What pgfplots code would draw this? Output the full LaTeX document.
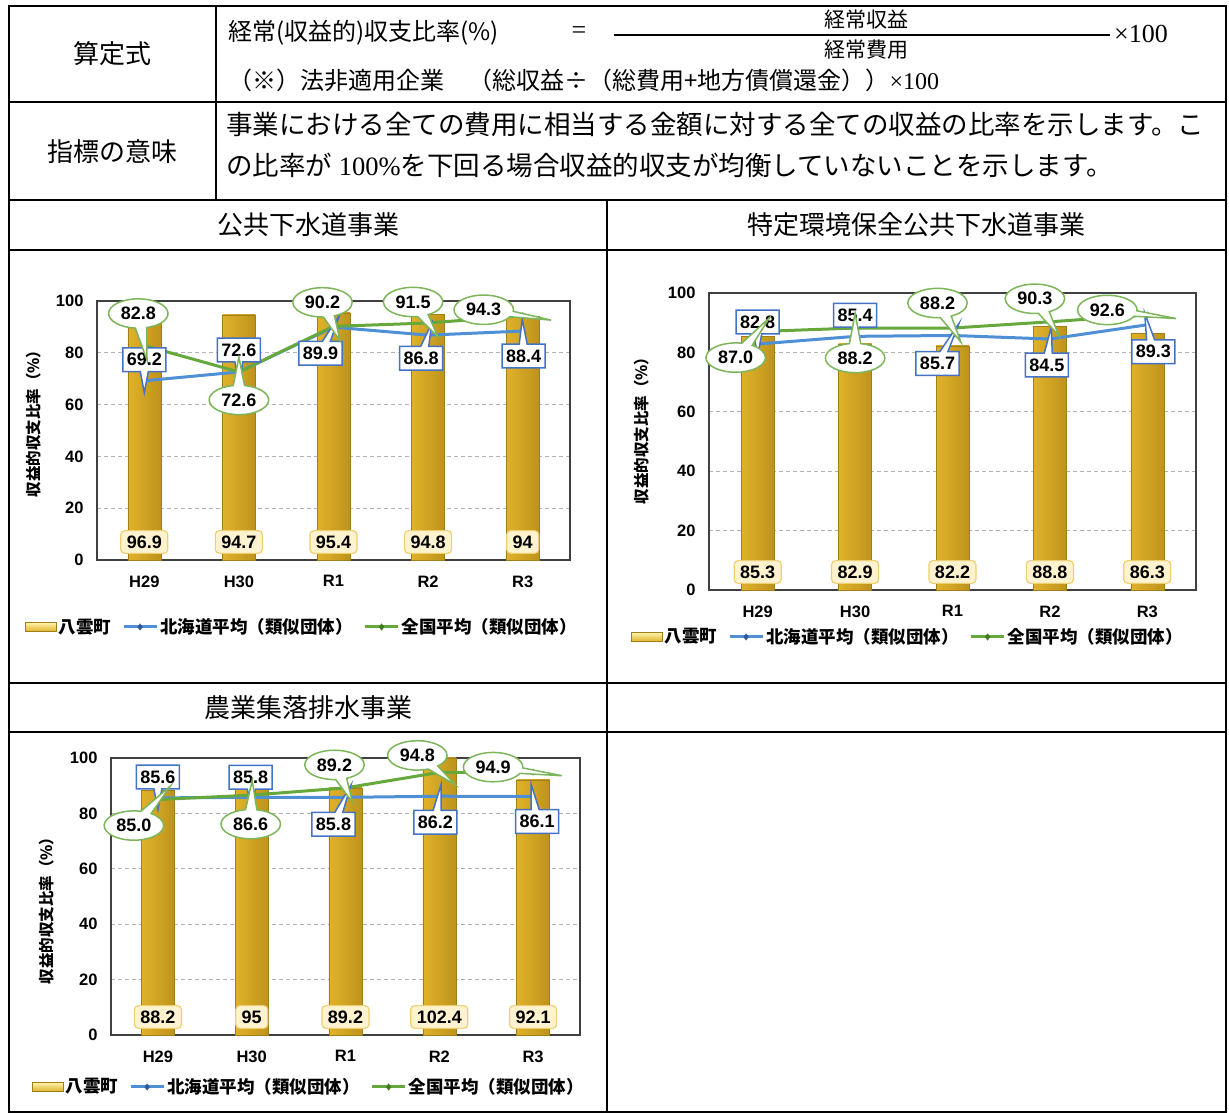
\documentclass[border=0pt]{standalone}
\usepackage{pgfplots}
\pgfplotsset{compat=1.18}
\usepackage{pgfplotstable}
\usepackage{fontspec}
\usetikzlibrary{shapes.callouts}
\setmainfont{Liberation Serif}
\newfontfamily\jp{Noto Sans CJK JP}
\newfontfamily\ars{Liberation Sans}

\definecolor{gridgray}{HTML}{B4B4B4}
\definecolor{framegray}{HTML}{404040}
\definecolor{hkblue}{HTML}{4F8FD6}
\definecolor{hkbluedark}{HTML}{2E5C9A}
\definecolor{zkgreen}{HTML}{66A83C}
\definecolor{zkgreendark}{HTML}{3F7A22}
\definecolor{callgreen}{HTML}{7DB55A}
\definecolor{callblue}{HTML}{4472C4}
\definecolor{barL}{HTML}{E0B22A}
\definecolor{barM}{HTML}{FFF3A8}
\definecolor{barR}{HTML}{BE931C}
\definecolor{barEdge}{HTML}{A07E18}
\definecolor{labFill}{HTML}{FFF3CF}
\definecolor{labDraw}{HTML}{EFCF72}

% x = year index, bar = 八雲町, hk = 北海道平均, zk = 全国平均
% ?dx/?dy: callout offset from its point (pt), ?px/?py: pointer back to the point
\pgfplotstableread{
x bar  hk   zk   hdx hdy hpx hpy zdx zdy zpx zpy
0 96.9 69.2 82.8   0  21   0 -21  -6  32   6 -32
1 94.7 72.6 72.6   0  22   0 -22   0 -28   0  28
2 95.4 89.9 90.2 -13 -26  13  26 -11  24  11 -24
3 94.8 86.8 91.5  -7 -23   7  23 -15  21  15 -21
4 94.0 88.4 94.3   1 -25  -1  25 -39   6  39  -6
}\tabKokyo

\pgfplotstableread{
x bar  hk   zk   hdx hdy hpx hpy zdx zdy zpx zpy
0 85.3 82.8 87.0   0  22   0 -22 -22 -26  22  26
1 82.9 85.4 88.2   0  21   0 -21   0 -30   0  30
2 82.2 85.7 88.2 -15 -28  15  28 -15  25  15 -25
3 88.8 84.5 90.3  -3 -26   3  26 -15  23  15 -23
4 86.3 89.3 92.6   6 -27  -6  27 -40   5  40  -5
}\tabTokkan

\pgfplotstableread{
x bar   hk   zk   hdx hdy hpx hpy zdx zdy zpx zpy
0 88.2  85.6 85.0   0  21   0 -21 -24 -26  24  26
1 95.0  85.8 86.6  -1  20   1 -20  -1 -29   1  29
2 89.2  85.8 89.2 -12 -27  12  27 -11  23  11 -23
3 102.4 86.2 94.8  -4 -26   4  26 -22  17  22 -17
4 92.1  86.1 94.9   4 -25  -4  25 -40   5  40  -5
}\tabNoshu

\pgfplotsset{
  ratiochart/.style={
    scale only axis, anchor=south west, clip=false,
    xmin=-0.5, xmax=4.5, ymin=0, ymax=100,
    xtick={0,1,2,3,4}, xticklabels={H29,H30,R1,R2,R3},
    ytick={0,20,40,60,80,100},
    ymajorgrids,
    grid style={gridgray, dash pattern=on 4pt off 3pt, line width=0.9pt},
    axis line style={framegray, line width=1.6pt},
    major tick length=0pt,
    tick label style={font=\ars\bfseries\fontsize{16.5}{18}\selectfont, text=black},
    /pgf/number format/assume math mode=true,
    yticklabel style={xshift=-10pt},
    xticklabel style={yshift=-12pt},
    legend columns=3,
    legend style={draw=none, fill=none, anchor=west, inner sep=0pt,
      font=\jp\bfseries\fontsize{17.5}{17.5}\selectfont,
      /tikz/every even column/.append style={column sep=9pt}},
  },
  barplot/.style={ybar, bar width=33pt, draw=barEdge, line width=0.4pt,
    left color=barL, middle color=barM, right color=barR},
  barlegend/.style={legend image code/.code={%
      \shade[top color=barM, bottom color=barL, draw=barEdge]
        (0pt,-4.5pt) rectangle (31pt,4.5pt);}},
  lineplot/.style={line width=3pt, mark=diamond*, mark size=3.2pt,
    legend image code/.code={%
      \draw[##1] (0pt,0pt) -- (33pt,0pt);
      \draw[##1] plot coordinates {(16.5pt,0pt)};}},
  barlabels/.style={forget plot, draw=none,
    nodes near coords, point meta=explicit,
    nodes near coords style={anchor=center, yshift=18pt, rounded corners=4pt,
      fill=labFill, draw=labDraw, line width=1.2pt, inner xsep=6pt, inner ysep=5pt,
      text=black, font=\ars\bfseries\fontsize{18}{18}\selectfont}},
  bluelabels/.style={forget plot, draw=none,
    nodes near coords, point meta=y,
    nodes near coords={\pgfmathprintnumber[fixed,fixed zerofill,precision=1]{\pgfplotspointmeta}},
    visualization depends on={\thisrow{hdx}\as\ldx},
    visualization depends on={\thisrow{hdy}\as\ldy},
    visualization depends on={\thisrow{hpx}\as\lpx},
    visualization depends on={\thisrow{hpy}\as\lpy},
    nodes near coords style={anchor=center, xshift=\ldx pt, yshift=\ldy pt,
      rectangle callout, callout relative pointer={(\lpx pt,\lpy pt)},
      callout pointer width=8pt,
      draw=callblue, fill=white, line width=1.5pt, inner xsep=4pt, inner ysep=5.5pt,
      text=black, font=\ars\bfseries\fontsize{18}{18}\selectfont}},
  greenlabels/.style={forget plot, draw=none,
    nodes near coords, point meta=y,
    nodes near coords={\pgfmathprintnumber[fixed,fixed zerofill,precision=1]{\pgfplotspointmeta}},
    visualization depends on={\thisrow{zdx}\as\ldx},
    visualization depends on={\thisrow{zdy}\as\ldy},
    visualization depends on={\thisrow{zpx}\as\lpx},
    visualization depends on={\thisrow{zpy}\as\lpy},
    nodes near coords style={anchor=center, xshift=\ldx pt, yshift=\ldy pt,
      ellipse callout, callout relative pointer={(\lpx pt,\lpy pt)},
      callout pointer arc=22,
      draw=callgreen, fill=white, line width=1.5pt, inner xsep=3.5pt, inner ysep=4pt,
      text=black, font=\ars\bfseries\fontsize{18}{18}\selectfont}},
}

% #1 = table, #2 = extra options for the bars
\newcommand{\ratioplots}[2]{%
  \addlegendimage{barlegend}
  \addlegendentry{八雲町}
  % one plot per year, so that every bar gets its own cylinder shading
  \pgfplotsinvokeforeach{0,...,4}{%
    \addplot[barplot, forget plot, x filter/.expression={abs(x-##1)<0.1 ? x : nan}, #2]
      table[x=x, y=bar]{#1};}
  \addplot[lineplot, hkblue, mark options={fill=hkbluedark, draw=hkbluedark, line width=0.4pt}]
    table[x=x, y=hk]{#1};
  \addlegendentry{北海道平均（類似団体）}
  \addplot[lineplot, zkgreen, mark options={fill=zkgreendark, draw=zkgreendark, line width=0.4pt}]
    table[x=x, y=zk]{#1};
  \addlegendentry{全国平均（類似団体）}
  \addplot[barlabels] table[x=x, y expr=0, meta=bar]{#1};
  \addplot[bluelabels] table[x=x, y=hk]{#1};
  \addplot[greenlabels] table[x=x, y=zk]{#1};
}

\begin{document}
\begin{tikzpicture}
\useasboundingbox (0pt,0pt) rectangle (1229pt,1113pt);

% ---- table frame and texts (coordinates measured from the top left) ----
\begin{scope}[x=1pt, y=-1pt, shift={(0pt,1113pt)}]
  \draw[line width=2.6pt] (9,6) rectangle (1226,1112);
  \draw[line width=2.6pt] (9,102) -- (1226,102);
  \draw[line width=2.6pt] (9,200) -- (1226,200);
  \draw[line width=2.6pt] (9,250) -- (1226,250);
  \draw[line width=2.6pt] (9,683) -- (1226,683);
  \draw[line width=2.6pt] (9,732) -- (1226,732);
  \draw[line width=2.6pt] (216,6) -- (216,200);
  \draw[line width=2.6pt] (607,200) -- (607,1112);

  \node[font=\jp\fontsize{26}{26}\selectfont] at (112,54) {算定式};
  \node[font=\jp\fontsize{26}{26}\selectfont] at (112,152) {指標の意味};

  \node[anchor=west, font=\jp\fontsize{24}{24}\selectfont, inner sep=0pt] at (228,33)
    {経常(収益的)収支比率(\%)};
  \node[font=\fontsize{26}{26}\selectfont] at (579,33) {=};
  \draw[line width=2.2pt] (614,35) -- (1110,35);
  \node[font=\jp\fontsize{21}{21}\selectfont] at (866,20) {経常収益};
  \node[font=\jp\fontsize{21}{21}\selectfont] at (866,50) {経常費用};
  \node[anchor=west, font=\fontsize{26}{26}\selectfont, inner sep=0pt] at (1114,34) {×100};
  \node[anchor=west, font=\jp\fontsize{24}{24}\selectfont, inner sep=0pt] at (228,80)
    {（※）法非適用企業　（総収益÷（総費用+地方債償還金））{\rmfamily ×100}};

  \node[anchor=west, font=\jp\fontsize{26.5}{26.5}\selectfont, inner sep=0pt] at (226,124)
    {事業における全ての費用に相当する金額に対する全ての収益の比率を示します。こ};
  \node[anchor=west, font=\jp\fontsize{26.5}{26.5}\selectfont, inner sep=0pt] at (226,165)
    {の比率が{\rmfamily\ 100\%}を下回る場合収益的収支が均衡していないことを示します。};

  \node[font=\jp\fontsize{26}{26}\selectfont] at (308,225) {公共下水道事業};
  \node[font=\jp\fontsize{26}{26}\selectfont] at (916,225) {特定環境保全公共下水道事業};
  \node[font=\jp\fontsize{26}{26}\selectfont] at (308,708) {農業集落排水事業};

  % axis titles
  \node[rotate=90, font=\jp\bfseries\fontsize{15.5}{15.5}\selectfont] at (34,420) {収益的収支比率（\%）};
  \node[rotate=90, font=\jp\bfseries\fontsize{15.5}{15.5}\selectfont] at (642,427) {収益的収支比率（\%）};
  \node[rotate=90, font=\jp\bfseries\fontsize{15.5}{15.5}\selectfont] at (47,907) {収益的収支比率（\%）};
\end{scope}

% ---- 公共下水道事業 ----
\begin{axis}[ratiochart, at={(97pt,553pt)}, width=473pt, height=259pt,
  legend style={at={(axis description cs:-0.1522,-0.2587)}}]
  \ratioplots{\tabKokyo}{}
\end{axis}

% ---- 特定環境保全公共下水道事業 ----
\begin{axis}[ratiochart, at={(709pt,523pt)}, width=487pt, height=297pt,
  legend style={at={(axis description cs:-0.1602,-0.1582),
    font=\jp\bfseries\fontsize{18.5}{18.5}\selectfont,
    /tikz/every even column/.append style={column sep=6pt}}}]
  \ratioplots{\tabTokkan}{}
\end{axis}

% ---- 農業集落排水事業 (the bar above 100 is cut at the frame) ----
\begin{axis}[ratiochart, at={(111pt,78pt)}, width=469pt, height=277pt,
  legend style={at={(axis description cs:-0.1684,-0.1877),
    font=\jp\bfseries\fontsize{18}{18}\selectfont}}]
  \ratioplots{\tabNoshu}{restrict y to domain*=0:100}
\end{axis}
\end{tikzpicture}
\end{document}
